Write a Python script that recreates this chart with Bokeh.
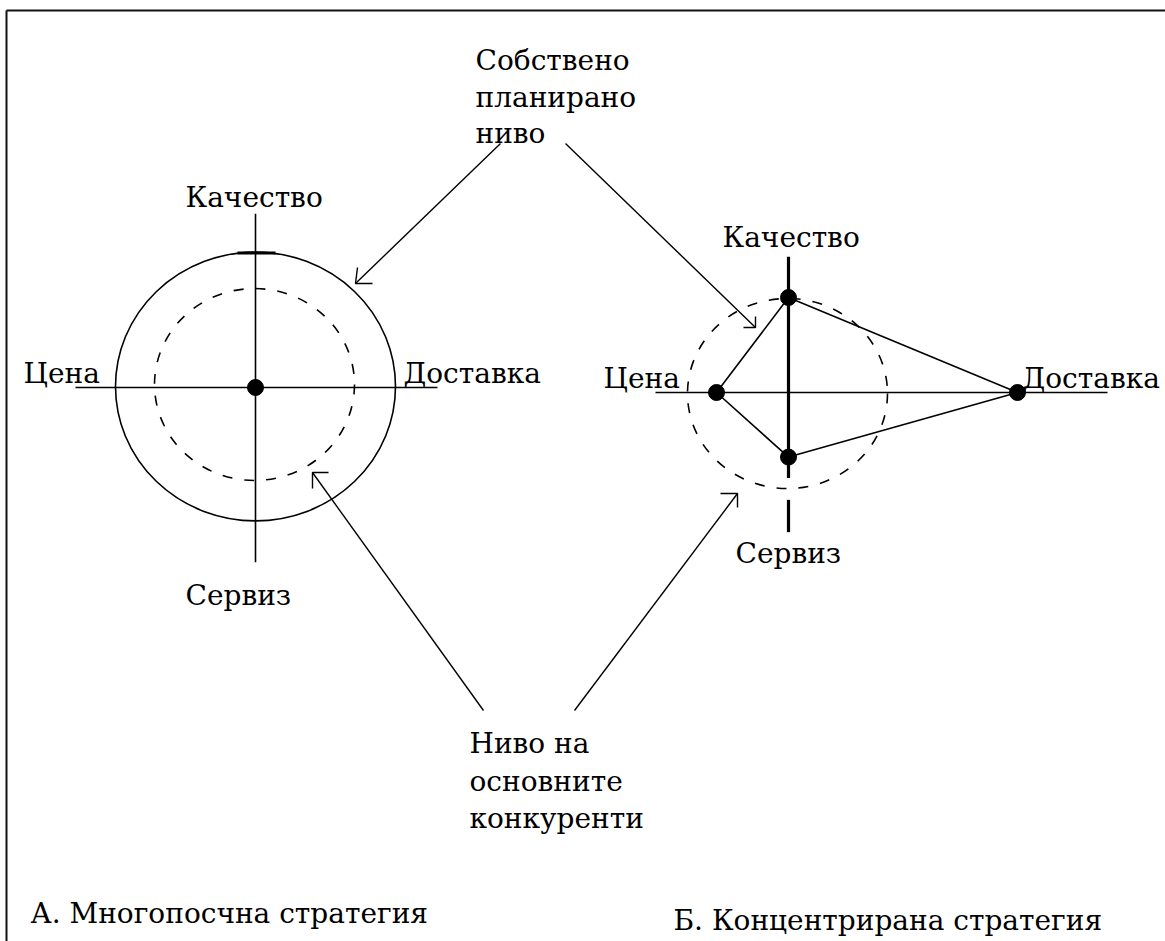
from bokeh.plotting import figure
from bokeh.models import Range1d, ColumnDataSource
from bokeh.core.properties import value
from bokeh.embed import file_html
from bokeh.resources import INLINE

# ---------------- data ----------------
categories = ["Качество", "Доставка", "Сервиз", "Цена"]
# levels relative to competitors' level (=1.0)
multi_own = [1.4, 1.4, 1.4, 1.4]        # A: own planned level (circle)
multi_comp = [1.0, 1.0, 1.0, 1.0]       # A: main competitors (dashed circle)
conc_own = [1.0, 2.29, 0.68, 0.72]      # B: own planned level (polygon)
conc_comp = [1.0, 1.0, 1.0, 1.0]        # B: main competitors (dashed circle)

label_own = ["Собствено", "планирано", "ниво"]
label_comp = ["Ниво на", "основните", "конкуренти"]
titles = ["А. Многопосчна стратегия", "Б. Концентрирана стратегия"]

# ---------------- layout ----------------
FONT = value("DejaVu Serif")
FS = "28px"
dirs = {"Качество": (0, -1), "Доставка": (1, 0), "Сервиз": (0, 1), "Цена": (-1, 0)}

W, H = 1165, 941
p = figure(width=W, height=H, x_range=Range1d(0, W), y_range=Range1d(H, 0),
           output_backend="svg", toolbar_location=None, min_border=0,
           x_axis_type=None, y_axis_type=None)
p.xgrid.visible = False
p.ygrid.visible = False
p.outline_line_color = None
p.background_fill_color = "white"

# frame lines (top and left)
p.segment(x0=[6, 6], y0=[10, 10], x1=[W, 6], y1=[10, H],
          line_color="#111111", line_width=2)


def pt(center, unit, cat, v):
    dx, dy = dirs[cat]
    return center[0] + dx * v * unit[0], center[1] + dy * v * unit[1]


def text(x, y, s, align="left"):
    p.text(x=[x], y=[y], text=[s], text_font=FONT, text_font_size=FS,
           text_align=align, text_baseline="alphabetic", text_color="black")


# ---------- panel A ----------
cA = (255, 387)
uA = (100, 96)
# axes
p.segment(x0=[cA[0] - 1.8 * uA[0], cA[0]], y0=[cA[1], cA[1] - 1.81 * uA[1]],
          x1=[cA[0] + 1.82 * uA[0], cA[0]], y1=[cA[1], cA[1] + 1.82 * uA[1]],
          line_color="black", line_width=1.6)
# own level circle
p.ellipse(x=[cA[0]], y=[cA[1] - 1], width=[2 * multi_own[1] * uA[0]],
          height=[2 * multi_own[0] * uA[1]], fill_color=None, line_color="black",
          line_width=1.6)
# competitors dashed circle
p.ellipse(x=[cA[0] - 1], y=[cA[1] - 3], width=[2 * multi_comp[1] * uA[0]],
          height=[2 * multi_comp[0] * uA[1]], fill_color=None, line_color="black",
          line_width=1.6, line_dash="10 12")
# tick on top
ty = cA[1] - multi_own[0] * uA[1]
p.segment(x0=[cA[0] - 18], y0=[ty], x1=[cA[0] + 20], y1=[ty], line_color="black", line_width=3)
p.scatter(x=[cA[0]], y=[cA[1]], size=16, fill_color="black", line_color="black")

text(185, 197, "Качество")
text(23, 373, "Цена")
text(403, 373, "Доставка")
text(185, 595, "Сервиз")

# ---------- panel B ----------
cB = (788, 392)
uB = (100, 95)
p.segment(x0=[cB[0] - 1.33 * uB[0], cB[0], cB[0]],
          y0=[cB[1], cB[1] - 1.43 * uB[1], cB[1] + 1.13 * uB[1]],
          x1=[cB[0] + 3.19 * uB[0], cB[0], cB[0]],
          y1=[cB[1], cB[1] + 0.9 * uB[1], cB[1] + 1.47 * uB[1]],
          line_color="black", line_width=[1.6, 3.2, 3.2])
p.ellipse(x=[cB[0] - 1], y=[cB[1] + 1], width=[2 * conc_comp[1] * uB[0]],
          height=[2 * conc_comp[0] * uB[1]], fill_color=None, line_color="black",
          line_width=1.6, line_dash="10 12")
xs, ys = [], []
for cat, v in zip(categories, conc_own):
    x, y = pt(cB, uB, cat, v)
    xs.append(x)
    ys.append(y)
src = ColumnDataSource(dict(x=xs, y=ys, cat=categories))
p.patch(x=xs + [xs[0]], y=ys + [ys[0]], fill_color=None, line_color="black", line_width=1.6)
p.scatter(x="x", y="y", source=src, size=16, fill_color="black", line_color="black")

text(722, 237, "Качество")
text(603, 378, "Цена")
text(1022, 378, "Доставка")
text(735, 553, "Сервиз")

# ---------- annotation labels ----------
for i, s in enumerate(label_own):
    text(475, [60, 97, 133][i], s)
for i, s in enumerate(label_comp):
    text(469, [743, 781, 818][i], s)
text(30, 913, titles[0])
text(673, 920, titles[1])

# ---------- arrows ----------
arrows = [
    ((500, 143), (355, 283), (372, 283), (357, 267)),
    ((565, 143), (755, 327), (743, 327), (755, 316)),
    ((483, 710), (312, 472), (328, 472), (312, 488)),
    ((574, 710), (737, 493), (720, 493), (737, 507)),
]
axs, ays = [], []
for s, t, l1, l2 in arrows:
    axs += [[s[0], t[0]], [l1[0], t[0], l2[0]]]
    ays += [[s[1], t[1]], [l1[1], t[1], l2[1]]]
p.multi_line(xs=axs, ys=ays, line_color="black", line_width=1.4)

open("out.html", "w").write(file_html(p, INLINE))
